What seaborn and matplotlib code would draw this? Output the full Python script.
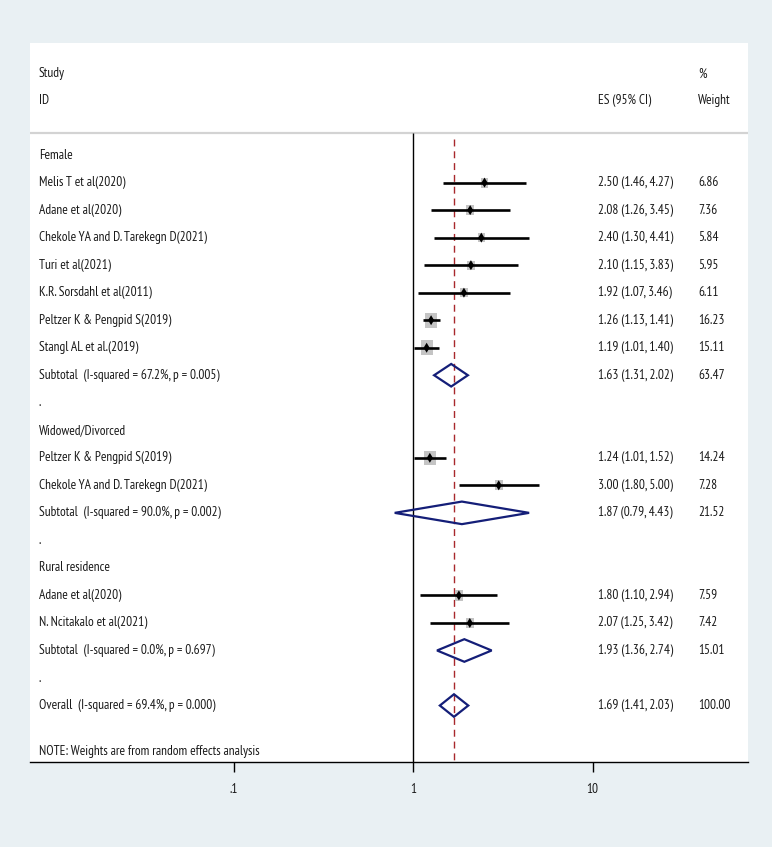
import numpy as np
import pandas as pd
import seaborn as sns
import matplotlib.pyplot as plt
from matplotlib.patches import Polygon
from matplotlib import font_manager
from matplotlib.textpath import TextPath

# ---- data ----
groups = ["Female", "Widowed/Divorced", "Rural residence"]

female_studies = ["Melis T et al(2020)", "Adane et al(2020)", "Chekole YA and D. Tarekegn D(2021)",
                  "Turi et al(2021)", "K.R. Sorsdahl et al(2011)", "Peltzer K & Pengpid S(2019)",
                  "Stangl AL et al.(2019)"]
female_es = [2.50, 2.08, 2.40, 2.10, 1.92, 1.26, 1.19]
female_lo = [1.46, 1.26, 1.30, 1.15, 1.07, 1.13, 1.01]
female_hi = [4.27, 3.45, 4.41, 3.83, 3.46, 1.41, 1.40]
female_w = [6.86, 7.36, 5.84, 5.95, 6.11, 16.23, 15.11]

widowed_studies = ["Peltzer K & Pengpid S(2019)", "Chekole YA and D. Tarekegn D(2021)"]
widowed_es = [1.24, 3.00]
widowed_lo = [1.01, 1.80]
widowed_hi = [1.52, 5.00]
widowed_w = [14.24, 7.28]

rural_studies = ["Adane et al(2020)", "N. Ncitakalo et al(2021)"]
rural_es = [1.80, 2.07]
rural_lo = [1.10, 1.25]
rural_hi = [2.94, 3.42]
rural_w = [7.59, 7.42]

subtotal_labels = ["Subtotal  (I-squared = 67.2%, p = 0.005)",
                   "Subtotal  (I-squared = 90.0%, p = 0.002)",
                   "Subtotal  (I-squared = 0.0%, p = 0.697)"]
subtotal_es = [1.63, 1.87, 1.93]
subtotal_lo = [1.31, 0.79, 1.36]
subtotal_hi = [2.02, 4.43, 2.74]
subtotal_w = [63.47, 21.52, 15.01]

overall_label = "Overall  (I-squared = 69.4%, p = 0.000)"
overall_es, overall_lo, overall_hi, overall_w = 1.69, 1.41, 2.03, 100.00

x_ticks = [0.1, 1, 10]
x_ticklabels = [".1", "1", "10"]

# ---- build row table ----
study_sets = [
    (female_studies, female_es, female_lo, female_hi, female_w),
    (widowed_studies, widowed_es, widowed_lo, widowed_hi, widowed_w),
    (rural_studies, rural_es, rural_lo, rural_hi, rural_w),
]
rows = []
r = 0
for g, (names, es, lo, hi, w) in enumerate(study_sets):
    rows.append(dict(row=r, label=groups[g], kind="header"))
    r += 1
    for n, e, l, h, ww in zip(names, es, lo, hi, w):
        rows.append(dict(row=r, label=n, kind="study", es=e, lo=l, hi=h, w=ww))
        r += 1
    rows.append(dict(row=r, label=subtotal_labels[g], kind="diamond", es=subtotal_es[g],
                     lo=subtotal_lo[g], hi=subtotal_hi[g], w=subtotal_w[g]))
    r += 1
    rows.append(dict(row=r, label=".", kind="blank"))
    r += 1
rows.append(dict(row=r, label=overall_label, kind="diamond", es=overall_es,
                 lo=overall_lo, hi=overall_hi, w=overall_w))
df = pd.DataFrame(rows)
studies = df[df.kind == "study"]

# ---- font: a Helvetica-like narrow sans, closest to width/cap-height ~ 18.7 ----
sns.set_theme(style="white")
avail = {f.name for f in font_manager.fontManager.ttflist}
candidates = ["Arial Narrow", "Liberation Sans Narrow", "Archivo Narrow", "Roboto Condensed",
              "PT Sans Narrow", "Pragati Narrow"]
probe_str = "Chekole YA and D. Tarekegn D(2021)"
best = None
for name in candidates:
    if name not in avail:
        continue
    fp = font_manager.FontProperties(family=name)
    try:
        wd = TextPath((0, 0), probe_str, size=10, prop=fp).get_extents().width
        ch = TextPath((0, 0), "H", size=10, prop=fp).get_extents().height
    except Exception:
        continue
    score = abs(wd / ch - 18.7)
    if best is None or score < best[0]:
        best = (score, name, wd)
if best is None:
    fam = "Liberation Sans"
    fs = 8.2
else:
    fam = best[1]
    # TextPath size is in points -> 168 px = 121 pt at 100 dpi
    fs = 10 * (168 * 0.72) / best[2]
plt.rcParams["font.family"] = [fam, "DejaVu Sans"]

bg = "#e9f0f3"
navy = "#141e78"

fig = plt.figure(figsize=(7.72, 8.47), dpi=100, facecolor=bg)
ax = fig.add_axes([0.0395, 0.1004, 0.9295, 0.8488])
ax.set_facecolor("white")
ax.set_xscale("log")
ax.set_xlim(10 ** -2.131, 10 ** 1.866)
ax.set_ylim(22.05, -4.07)

top_line = -0.8
# grey separator + reference lines
ax.axhline(top_line, color="#d3d3d3", lw=1.6, zorder=1)
ax.vlines(1, top_line, 22.05, color="black", lw=1.0, zorder=2)
ax.vlines(overall_es, -0.6, 22.05, color="#a8282c", lw=1.0, linestyles=(0, (5, 3.5)), zorder=2)

# CIs
ax.hlines(studies["row"], studies["lo"], studies["hi"], color="black", lw=1.9, zorder=4)
# weight boxes (area ~ weight)
box = [(-0.4, -0.5), (0.4, -0.5), (0.4, 0.5), (-0.4, 0.5), (-0.4, -0.5)]
sns.scatterplot(data=studies, x="es", y="row", size="w", sizes=(5.84 * 7.5, 16.23 * 7.5),
                size_norm=(5.84, 16.23), marker=box, color="#c4c4c4", edgecolor="none",
                legend=False, ax=ax, zorder=3)
# point estimates
pt = [(0, -0.5), (0.3, 0), (0, 0.5), (-0.3, 0), (0, -0.5)]
sns.scatterplot(data=studies, x="es", y="row", marker=pt, s=52, color="black",
                edgecolor="none", linewidth=0, legend=False, ax=ax, zorder=5)

# pooled diamonds
for _, d in df[df.kind == "diamond"].iterrows():
    pts = [(d.lo, d.row), (d.es, d.row - 0.41), (d.hi, d.row), (d.es, d.row + 0.41)]
    ax.add_patch(Polygon(pts, closed=True, fill=False, edgecolor=navy, lw=1.6, zorder=5))

# text columns
tx = ax.get_yaxis_transform()
x_lab = (39 - 30.5) / 717.5
x_es = (598 - 30.5) / 717.5
x_w = (698 - 30.5) / 717.5
tc = "#1a1a1a"
ax.text(x_lab, -2.95, "Study", transform=tx, fontsize=fs, va="center", color=tc)
ax.text(x_lab, -2.0, "ID", transform=tx, fontsize=fs, va="center", color=tc)
ax.text(x_es, -2.0, "ES (95% CI)", transform=tx, fontsize=fs, va="center", color=tc)
ax.text(x_w, -2.95, "%", transform=tx, fontsize=fs, va="center", color=tc)
ax.text(x_w, -2.0, "Weight", transform=tx, fontsize=fs, va="center", color=tc)
for _, d in df.iterrows():
    ax.text(x_lab, d.row, d.label, transform=tx, fontsize=fs, va="center", color=tc)
    if d.kind in ("study", "diamond"):
        ax.text(x_es, d.row, f"{d.es:.2f} ({d.lo:.2f}, {d.hi:.2f})", transform=tx,
                fontsize=fs, va="center", color=tc)
        ax.text(x_w, d.row, f"{d.w:.2f}", transform=tx, fontsize=fs, va="center", color=tc)
ax.text(x_lab, 21.67, "NOTE: Weights are from random effects analysis", transform=tx,
        fontsize=fs, va="center", color=tc)

# axis
for s in ["top", "left", "right"]:
    ax.spines[s].set_visible(False)
ax.spines["bottom"].set_color("black")
ax.spines["bottom"].set_linewidth(1.0)
ax.set_xticks(x_ticks)
ax.set_xticklabels(x_ticklabels, fontsize=fs, color=tc)
ax.xaxis.set_minor_locator(plt.NullLocator())
ax.tick_params(axis="x", direction="out", length=7, width=1.0, color="black", pad=8, bottom=True)
ax.set_yticks([])
ax.set_xlabel("")
ax.set_ylabel("")

fig.savefig("out.png", dpi=100, facecolor=bg)
